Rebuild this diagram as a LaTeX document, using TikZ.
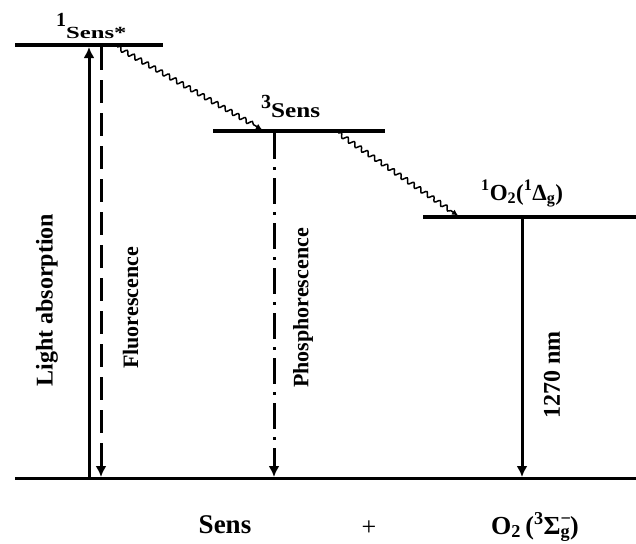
\documentclass[tikz,border=0pt]{standalone}
\usepackage{fontspec}
\setmainfont{Liberation Serif}
\usetikzlibrary{arrows.meta,decorations.pathmorphing}
\newcommand\fsz[1]{\fontsize{#1}{#1}\selectfont}
\begin{document}
\begin{tikzpicture}[x=1pt,y=-1pt,
  level/.style={line width=3.5pt},
  ground/.style={line width=3pt},
  trans/.style={line width=3pt},
  uptip/.style={-{Latex[length=11pt,width=11pt]}},
  wavy/.style={decorate,decoration={snake,amplitude=2.2pt,segment length=8pt,post length=6pt},
    line width=1.5pt,-{Latex[length=6pt,width=6pt]}},
  lbl/.style={inner sep=0pt,font=\bfseries}]
\useasboundingbox (0,0) rectangle (636,543);
% level end points
\coordinate (s1L) at (15,45);   \coordinate (s1R) at (163,45);
\coordinate (t1L) at (213,131); \coordinate (t1R) at (385,131);
\coordinate (oL)  at (423,217); \coordinate (oR)  at (636,217);
\coordinate (gL)  at (15,478);  \coordinate (gR)  at (636,478);
% levels
\draw[level] (s1L) -- (s1R);
\draw[level] (t1L) -- (t1R);
\draw[level] (oL) -- (oR);
\draw[ground] (gL) -- (gR);
% transition end points
\coordinate (la0) at (89,478);   \coordinate (la1) at (89,47);
\coordinate (fl0) at (101,47);   \coordinate (fl1) at (101,477);
\coordinate (ph0) at (274,133);  \coordinate (ph1) at (274,477);
\coordinate (nm0) at (522,219);  \coordinate (nm1) at (522,477);
\coordinate (w10) at (117,47);   \coordinate (w11) at (262,129.5);
\coordinate (w20) at (338,133);  \coordinate (w21) at (458,215.5);
% transitions
\draw[trans,uptip] (la0) -- (la1);
\draw[trans,uptip,dash pattern=on 23pt off 10pt] (fl0) -- (fl1);
\draw[trans,uptip,dash pattern=on 26pt off 8pt on 3pt off 8pt] (ph0) -- (ph1);
\draw[trans,uptip] (nm0) -- (nm1);
\draw[wavy] (w10) -- (w11);
\draw[wavy] (w20) -- (w21);
% labels
\node[lbl,anchor=base west] (s1lab) at (56,38)
  {\fsz{20}\raisebox{12pt}{1}\fsz{17}\scalebox{1.45}[1]{Sens*}};
\node[lbl,anchor=base west] (t1lab) at (261,117)
  {\fsz{20}\raisebox{9pt}{3}\fsz{21}\scalebox{1.2}[1]{Sens}};
\node[lbl,anchor=base west] (olab) at (481,200)
  {\fsz{23}\textsuperscript{1}O\textsubscript{2}(\textsuperscript{1}Δ\textsubscript{g})};
\node[lbl,rotate=90] (lalab) at (47,300) {\fsz{24}Light absorption};
\node[lbl,rotate=90] (fllab) at (130.5,308) {\fsz{22}Fluorescence};
\node[lbl,rotate=90] (phlab) at (303,308) {\fsz{22}Phosphorescence};
\node[lbl,rotate=90] (nmlab) at (552,375) {\fsz{24}1270 nm};
\node[lbl,anchor=base] (sens) at (225,533) {\fsz{27}Sens};
\node[inner sep=0pt] (plus) at (369,528) {\fsz{26}+};
\node[lbl,anchor=base west] (o2) at (491,534)
  {\fsz{26}O\textsubscript{2}\,(\textsuperscript{3}Σ\makebox[0pt][l]{\textsuperscript{−}}\textsubscript{g})};
\end{tikzpicture}
\end{document}
